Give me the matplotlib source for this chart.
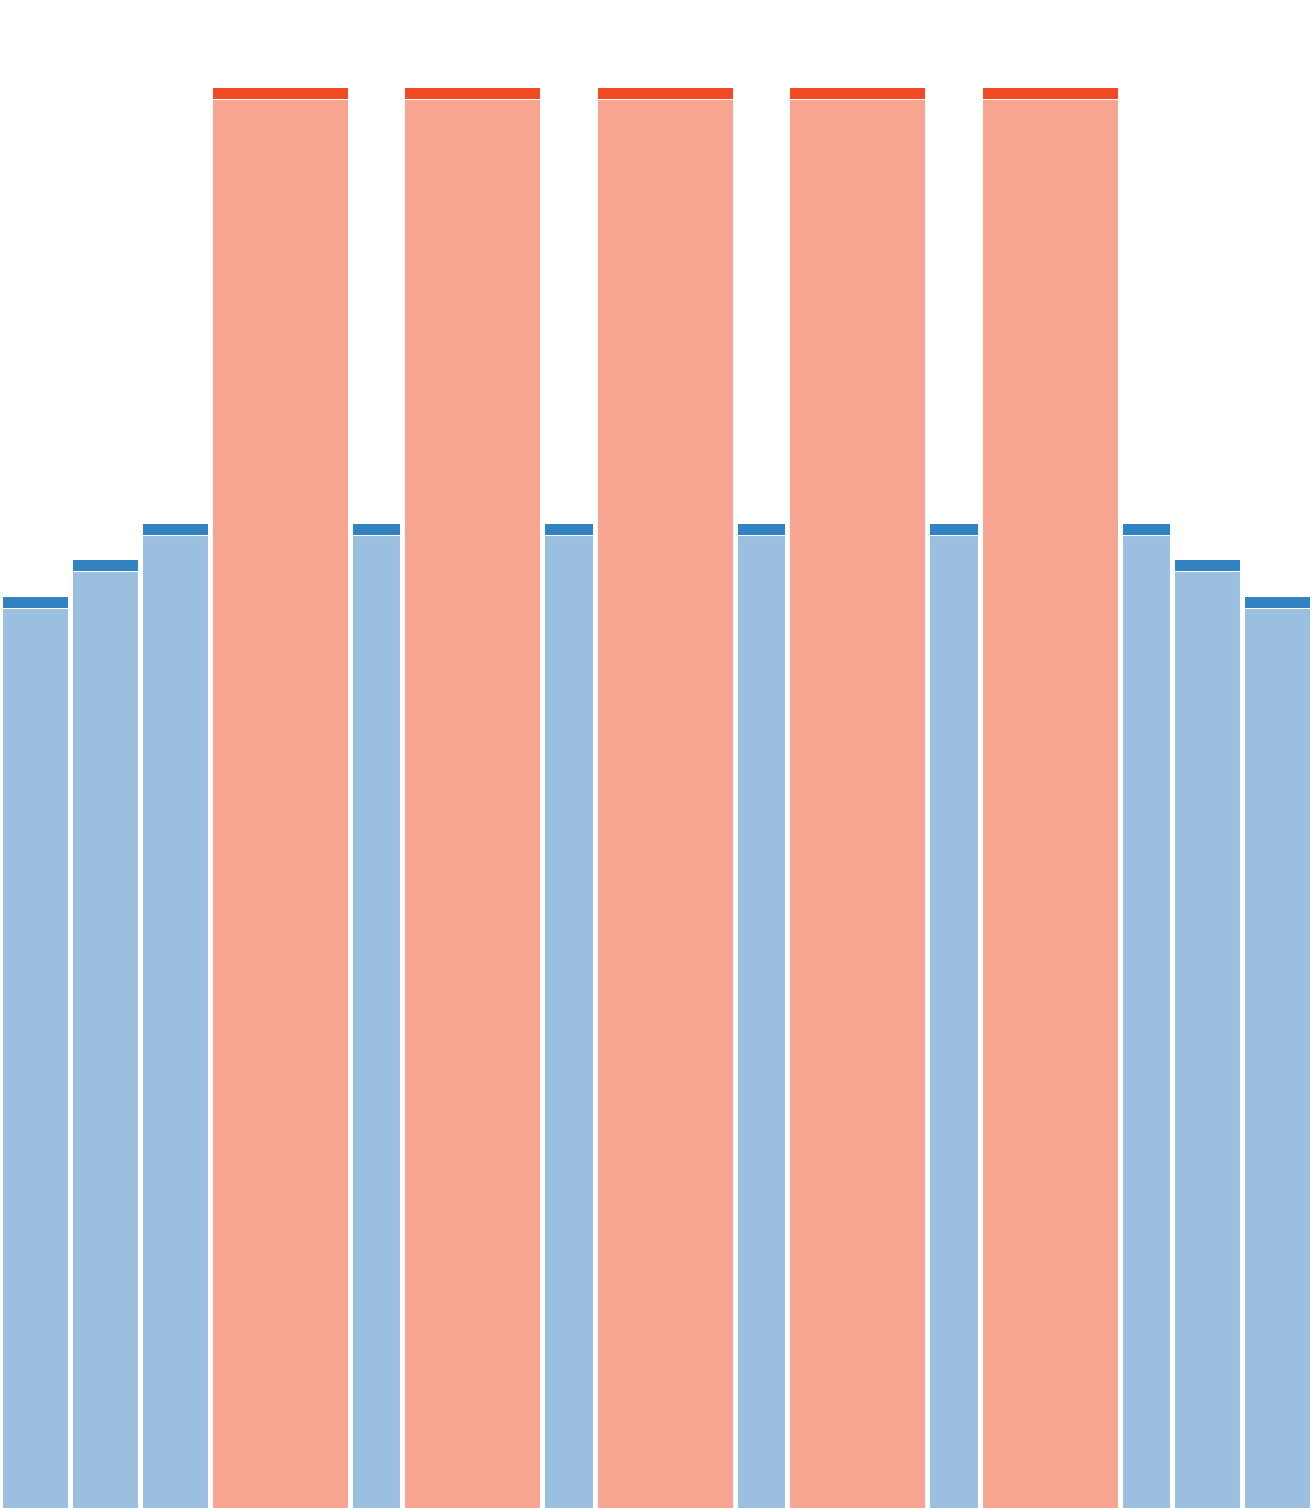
import matplotlib
matplotlib.use("Agg")
import matplotlib.pyplot as plt
import numpy as np

# Data
categories = list(range(1, 16))
widths = [1, 1, 1, 2, 0.75, 2, 0.75, 2, 0.75, 2, 0.75, 2, 0.75, 1, 1]
totals = [64.25, 66.85, 69.35, 100.05, 69.35, 100.05, 69.35, 100.05, 69.35, 100.05, 69.35, 100.05, 69.35, 66.85, 64.25]
cap = [0.83] * 15
is_red = [False, False, False, True, False, True, False, True, False, True, False, True, False, False, False]

light_blue, dark_blue = "#9bbfdf", "#3182c0"
light_red, dark_red = "#f7a590", "#f14a22"

W, H = 1312, 1508
fig = plt.figure(figsize=(W / 100, H / 100), dpi=100)
ax = fig.add_axes([0, 0, 1, 1])

total_w = sum(widths)
px_per_unit_x = W / total_w
gap = 4.0 / px_per_unit_x  # about 4 px gap in data units

lefts = np.concatenate([[0], np.cumsum(widths)[:-1]])
centers = lefts + np.array(widths) / 2
bw = np.array(widths) - gap

lights = [t - c for t, c in zip(totals, cap)]
lc = [light_red if r else light_blue for r in is_red]
dc = [dark_red if r else dark_blue for r in is_red]

ax.bar(centers, lights, width=bw, color=lc, edgecolor="white", linewidth=0.75)
ax.bar(centers, cap, bottom=lights, width=bw, color=dc, edgecolor="white", linewidth=0.75)

ax.set_xlim(0, total_w)
ax.set_ylim(0.03, 100 * H / 1420)
ax.axis("off")

fig.savefig("out.png", dpi=100)
